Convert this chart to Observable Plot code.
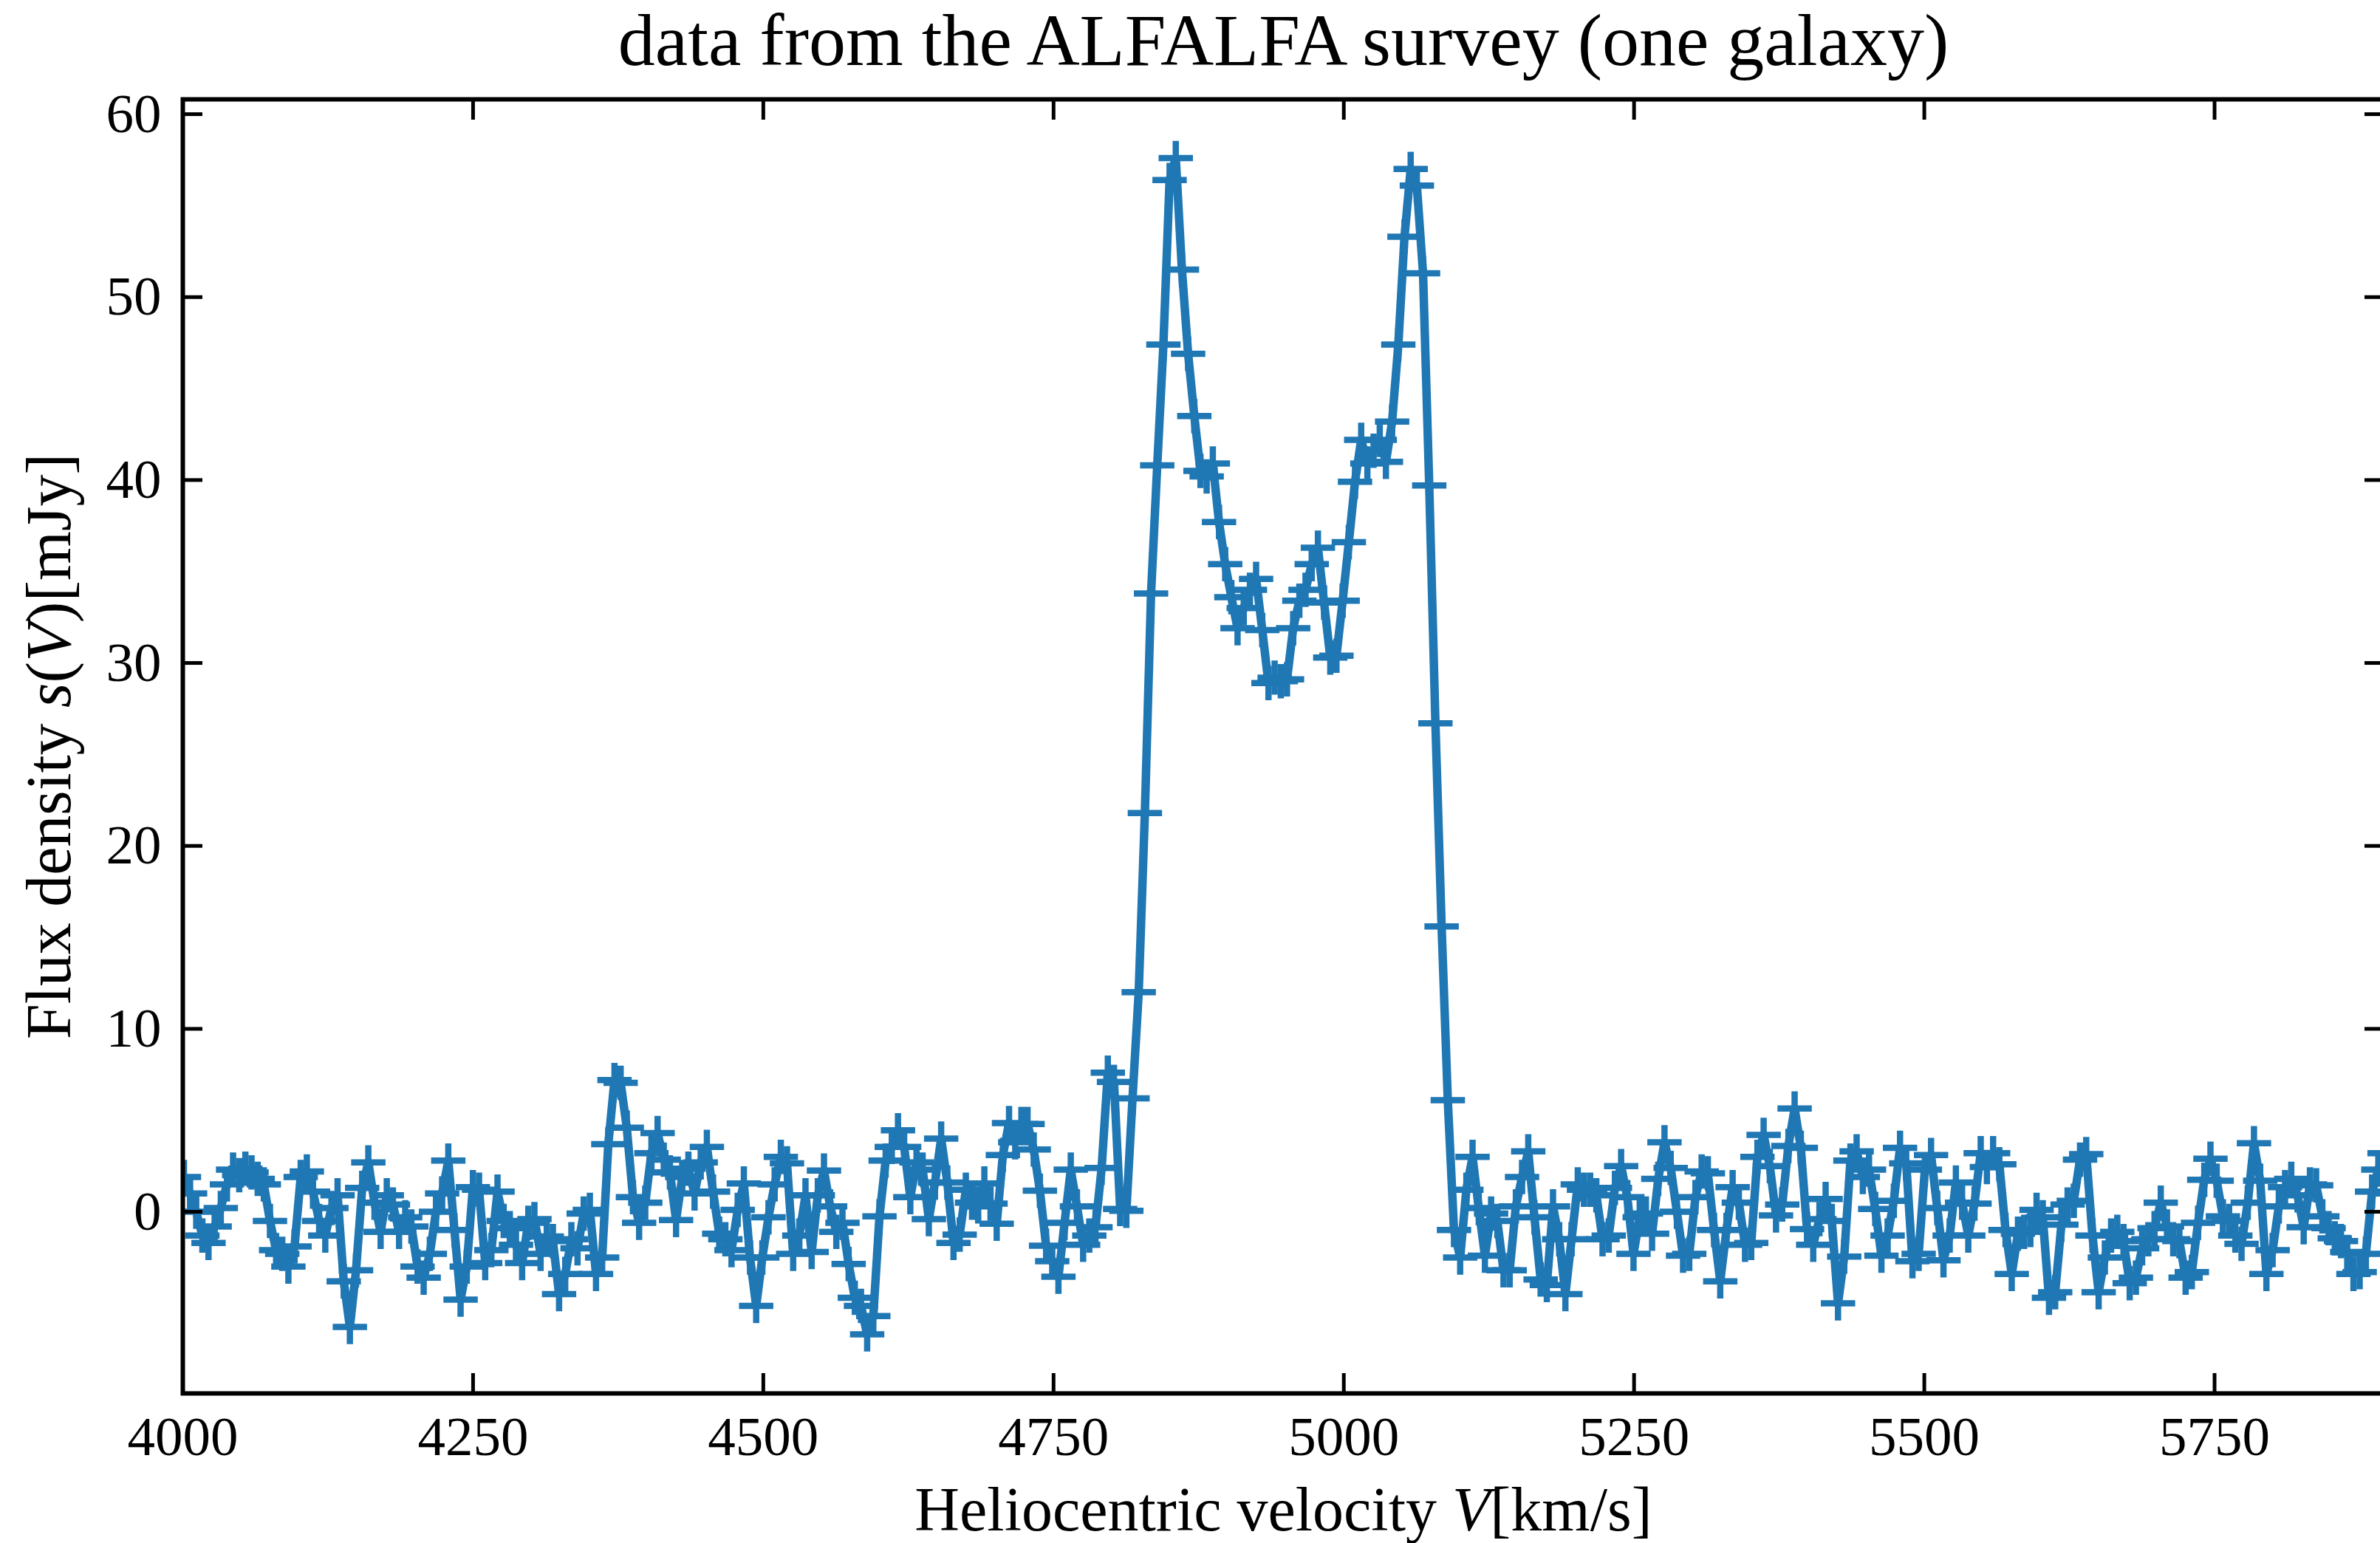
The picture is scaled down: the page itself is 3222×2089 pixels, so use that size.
<!DOCTYPE html>
<html>
<head>
<meta charset="utf-8">
<title>ALFALFA spectrum</title>
<script src="https://cdn.jsdelivr.net/npm/d3@7"></script>
<script src="https://cdn.jsdelivr.net/npm/@observablehq/plot@0.6"></script>
<style>
  html, body { margin: 0; padding: 0; background: #fff; overflow: hidden; }
  #chart svg { display: block; }
</style>
</head>
<body>
<div id="chart"></div>
<script>
// HI 21 cm spectrum of one galaxy from the ALFALFA survey.
// Channels are uniform in frequency; velocities are optical heliocentric (cz).
const restFreq = 1420.40575;      // MHz
const lightSpeed = 299792.458;    // km/s
const firstChannelFreq = 1401.699; // MHz
const channelWidth = 0.024414;    // MHz

// Flux density per channel [mJy]
const flux = [
  1.9, 1.0, 0.0, -1.3, -1.7, -0.8, 0.2, 1.5, 2.3, 2.0,
  2.35, 2.15, 1.8, 1.5, -0.5, -2.1, -2.3, -3.0, -1.9, 1.9,
  2.2, 1.1, -0.5, -1.3, 0.2, 0.9, -3.8, -6.3, -3.2, 1.3,
  2.7, 0.5, -1.1, 0.9, 0.4, -1.1, -0.3, -0.8, -3.0, -3.6,
  -2.3, 0.0, 1.0, 2.8, -1.0, -4.8, -3.0, 1.35, 1.2, -2.8,
  -2.1, 1.1, -0.5, -0.9, -1.8, -2.8, -0.6, -0.4, -2.3, -1.35,
  -1.6, -4.5, -3.4, -1.5, -2.0, -0.1, 0.1, -3.4, -2.5, 3.7,
  7.2, 7.05, 4.6, 0.8, -0.6, 0.5, 3.2, 4.3, 2.85, 2.15,
  -0.45, 1.9, 2.35, 1.0, 2.7, 3.55, 1.1, -1.2, -1.5, -2.1,
  0.1, 1.55, -2.5, -5.15, -2.5, -0.3, 1.5, 3.0, 2.65, -2.3,
  -1.3, 0.9, -2.2, 0.9, 2.25, 0.3, -1.1, -0.6, -2.85, -4.7,
  -5.15, -6.7, -5.7, -0.25, 2.8, 3.55, 4.45, 3.55, 0.8, 2.7,
  2.3, -0.4, 1.6, 4.0, 1.6, -1.7, -1.25, 1.2, 0.5, 0.3,
  1.55, 0.45, -0.65, 3.1, 4.85, 3.8, 4.8, 4.8, 3.4, 1.15,
  -1.85, -2.7, -3.55, -0.6, 2.3, 0.3, -1.8, -1.3, -0.85, 2.4,
  7.6, 7.1, 0.15, 0.05, 6.2, 12.0, 21.8, 33.8, 40.8, 47.4,
  56.4, 57.6, 51.5, 46.9, 43.5, 40.5, 40.2, 40.9, 37.7, 35.4,
  33.6, 31.9, 33.0, 34.0, 34.6, 31.8, 28.9, 29.2, 29.0, 29.1,
  31.9, 33.4, 34.0, 35.4, 36.3, 33.3, 30.3, 30.4, 33.4, 36.6,
  39.9, 42.2, 40.9, 41.6, 42.2, 41.0, 43.2, 47.4, 53.3, 57.0,
  56.1, 51.3, 39.7, 26.7, 15.6, 6.1, -1.0, -2.5, 1.2, 3.0,
  0.2, -2.4, -0.1, -0.5, -3.2, -3.2, 0.3, 1.9, 3.3, -0.3,
  -3.7, -4.0, 0.3, -1.5, -4.5, -1.5, 1.5, 1.2, 1.2, 0.9,
  -1.5, -1.3, 1.3, 2.5, 0.8, -2.3, -0.3, -0.1, -1.2, 1.8,
  3.8, 2.4, 0.0, -2.4, -2.3, 0.8, 2.2, 2.1, -1.0, -3.8,
  -1.0, 1.35, 0.5, -1.8, -1.7, 3.0, 4.2, 2.5, -0.2, 0.4,
  3.6, 5.65, 3.5, -0.95, -1.8, -0.4, 0.7, -0.5, -5.0, -2.45,
  2.8, 3.3, 1.9, 2.3, 0.15, -2.4, -1.3, 0.6, 3.5, 2.65,
  -2.7, -2.3, 2.3, 3.1, 0.2, -2.65, -1.3, 1.6, 0.5, -1.3,
  0.45, 3.2, 2.45, 3.2, 2.6, -1.0, -3.4, -1.2, -1.1, -1.0,
  0.1, -0.3, -4.7, -4.4, -0.7, 0.4, 0.6, 2.85, 3.15, -1.3,
  -4.4, -2.5, -1.3, -1.1, -1.6, -3.9, -3.6, -2.0, -1.5, -0.9,
  0.5, -0.8, -1.5, -1.6, -3.6, -3.3, -0.6, 1.75, 2.9, 1.7,
  -0.25, -0.5, -1.3, -1.75, 0.5, 3.75, 1.7, -3.4, -2.1, 0.3,
  1.35, 1.8, 0.9, -0.85, 1.5, 1.45, -0.25, -0.9, -1.45, -1.6,
  -2.2, -3.4, -3.3, -2.3, 1.1, 2.3, 3.2, 1.0
];

const xTicks = [4000, 4250, 4500, 4750, 5000, 5250, 5500, 5750];
const yTicks = [0, 10, 20, 30, 40, 50, 60];

const titleText = "data from the ALFALFA survey (one galaxy)";
const xLabelText = "Heliocentric velocity V[km/s]";
const yLabelText = "Flux density s(V)[mJy]";

// channel index -> heliocentric velocity
const spectrum = flux.map((s, i) => {
  const f = firstChannelFreq - i * channelWidth;
  return {v: lightSpeed * (restFreq / f - 1), s};
});

const blue = "#1f77b4";
const serif = "'Liberation Serif', 'Times New Roman', serif";
const tickLen = -27;   // negative: ticks point into the plot
const tickW = 5;

const chart = Plot.plot({
  width: 3222,
  height: 2089,
  marginLeft: 247,
  marginRight: -5,
  marginTop: 134,
  marginBottom: 203,
  style: {fontFamily: serif, background: "white", color: "black"},
  x: {domain: [4000, 5896]},
  y: {domain: [-9.93, 60.81]},
  marks: [
    Plot.line(spectrum, {x: "v", y: "s", stroke: blue, strokeWidth: 11.5, clip: true}),
    Plot.dot(spectrum, {x: "v", y: "s", symbol: "plus", r: 15, stroke: blue, strokeWidth: 8.5, clip: true}),
    Plot.frame({stroke: "black", strokeWidth: 6}),

    // inward ticks on all four spines
    Plot.axisX({ticks: xTicks, anchor: "bottom", tickSize: tickLen, strokeWidth: tickW, tickFormat: () => "", label: null}),
    Plot.axisX({ticks: xTicks, anchor: "top", tickSize: tickLen, strokeWidth: tickW, tickFormat: () => "", label: null}),
    Plot.axisY({ticks: yTicks, anchor: "left", tickSize: tickLen, strokeWidth: tickW, tickFormat: () => "", label: null}),
    Plot.axisY({ticks: yTicks, anchor: "right", tickSize: tickLen, strokeWidth: tickW, tickFormat: () => "", label: null}),

    // tick labels
    Plot.axisX({ticks: xTicks, anchor: "bottom", tickSize: 0, tickPadding: 30, fontSize: 75, label: null, tickFormat: d => String(d)}),
    Plot.axisY({ticks: yTicks, anchor: "left", tickSize: 0, tickPadding: 29, fontSize: 75, label: null, tickFormat: d => String(d)}),

    // title and axis labels
    Plot.text([titleText], {text: d => d, frameAnchor: "top", textAnchor: "middle", lineAnchor: "middle", dy: -79, fontSize: 100}),
    Plot.text([xLabelText], {text: d => d, frameAnchor: "bottom", textAnchor: "middle", lineAnchor: "middle", dy: 159, fontSize: 84}),
    Plot.text([yLabelText], {text: d => d, frameAnchor: "left", textAnchor: "middle", lineAnchor: "middle", rotate: -90, dx: -180, fontSize: 86})
  ]
});

document.getElementById("chart").appendChild(chart);

// math symbols in the axis labels are set in italics
function italicize(label, parts) {
  d3.select(chart).selectAll("text")
    .filter(function () { return this.textContent === label; })
    .each(function () {
      const t = d3.select(this);
      t.text(null);
      for (const [str, it] of parts) {
        const sp = t.append("tspan").text(str);
        if (it) sp.attr("font-style", "italic");
      }
    });
}
italicize(xLabelText, [["Heliocentric velocity ", false], ["V", true], ["[km/s]", false]]);
italicize(yLabelText, [["Flux density ", false], ["s", true], ["(", false], ["V", true], [")[mJy]", false]]);
</script>
</body>
</html>
